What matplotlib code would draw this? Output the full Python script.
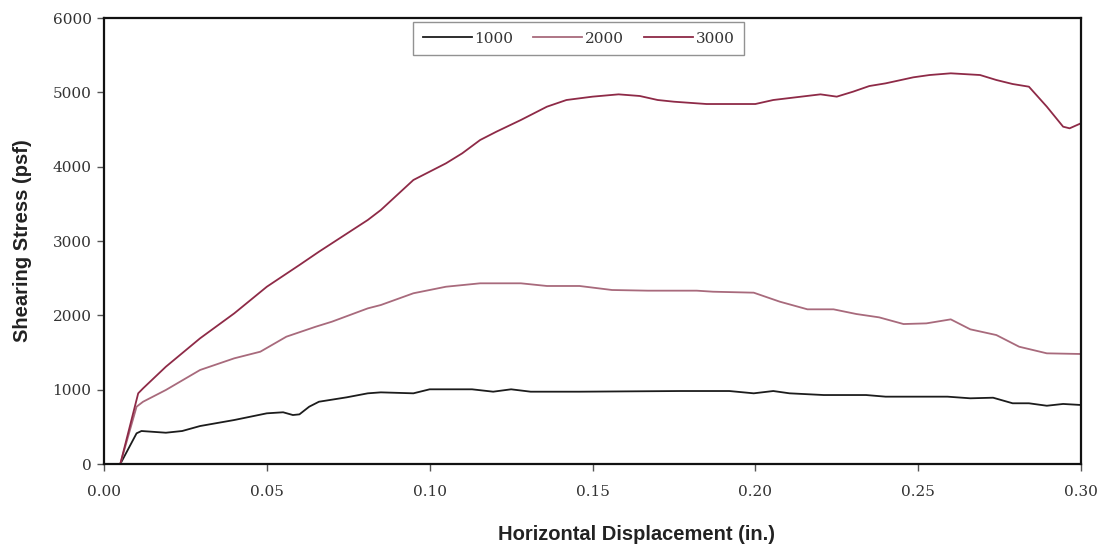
import numpy as np
import matplotlib.pyplot as plt

# Horizontal displacement (in.) and shearing stress (psf)
x_1000 = [0.005, 0.010, 0.0115, 0.019, 0.024, 0.0295, 0.040, 0.045, 0.050, 0.055,
          0.058, 0.060, 0.063, 0.066, 0.0745, 0.081, 0.085, 0.095, 0.100, 0.113,
          0.1195, 0.125, 0.131, 0.146, 0.177, 0.192, 0.1995, 0.2055, 0.2105, 0.221,
          0.234, 0.240, 0.259, 0.266, 0.273, 0.279, 0.284, 0.2895, 0.2945, 0.300]
y_1000 = [0, 413, 444, 421, 444, 511, 592, 637, 682, 696,
          659, 668, 771, 838, 897, 951, 964, 951, 1005, 1005,
          973, 1005, 973, 973, 982, 982, 951, 982, 951, 928,
          928, 906, 906, 884, 892, 817, 817, 784, 808, 794]

x_2000 = [0.005, 0.010, 0.012, 0.019, 0.0295, 0.040, 0.048, 0.056, 0.065, 0.070,
          0.081, 0.085, 0.095, 0.105, 0.1155, 0.128, 0.136, 0.146, 0.156, 0.167,
          0.182, 0.187, 0.1995, 0.2075, 0.216, 0.224, 0.231, 0.238, 0.2455, 0.2525,
          0.260, 0.266, 0.274, 0.281, 0.2895, 0.300]
y_2000 = [0, 771, 838, 996, 1265, 1422, 1511, 1713, 1847, 1915,
          2094, 2139, 2297, 2385, 2431, 2431, 2395, 2395, 2341, 2332,
          2332, 2318, 2305, 2184, 2081, 2081, 2018, 1973, 1883, 1892,
          1946, 1812, 1735, 1578, 1489, 1480]

x_3000 = [0.005, 0.0105, 0.012, 0.019, 0.0295, 0.040, 0.050, 0.060, 0.066, 0.081,
          0.085, 0.095, 0.105, 0.110, 0.1155, 0.1205, 0.128, 0.136, 0.142, 0.150,
          0.158, 0.1645, 0.170, 0.175, 0.185, 0.200, 0.2055, 0.220, 0.225, 0.230,
          0.235, 0.240, 0.2485, 0.2535, 0.260, 0.269, 0.274, 0.279, 0.284, 0.2895,
          0.2945, 0.2965, 0.300]
y_3000 = [0, 951, 1018, 1309, 1691, 2027, 2385, 2677, 2856, 3283,
          3417, 3821, 4045, 4180, 4359, 4471, 4628, 4807, 4897, 4942,
          4973, 4951, 4897, 4874, 4843, 4843, 4897, 4973, 4942, 5009,
          5085, 5121, 5202, 5233, 5256, 5233, 5166, 5112, 5076, 4807,
          4538, 4516, 4584]

series = [("1000", x_1000, y_1000, "#1c1c1c"),
          ("2000", x_2000, y_2000, "#a86a7c"),
          ("3000", x_3000, y_3000, "#8e2a47")]

fig = plt.figure(figsize=(11.10, 5.49), dpi=100)
ax = fig.add_axes([0.0937, 0.1548, 0.8802, 0.8124])

for name, xs, ys, col in series:
    ax.plot(xs, ys, color=col, lw=1.3, label=name)

ax.set_xlim(0, 0.30)
ax.set_ylim(0, 6000)
ax.set_xticks(np.arange(0, 0.301, 0.05))
ax.set_xticklabels([f"{v:.2f}" for v in np.arange(0, 0.301, 0.05)])
ax.set_yticks(np.arange(0, 6001, 1000))

for s in ax.spines.values():
    s.set_linewidth(1.6)
    s.set_color("#111111")

ax.tick_params(axis="both", direction="out", length=5, width=1, color="#555555",
               labelsize=11, labelcolor="#333333")
for lab in ax.get_xticklabels() + ax.get_yticklabels():
    lab.set_fontfamily("DejaVu Serif")
ax.tick_params(axis="x", pad=10)
ax.tick_params(axis="y", pad=4)

ax.set_xlabel("Horizontal Displacement (in.)", fontfamily="Liberation Sans",
              fontweight="bold", fontsize=14.5, color="#222222")
ax.set_ylabel("Shearing Stress (psf)", fontfamily="Liberation Sans",
              fontweight="bold", fontsize=14.5, color="#222222")
ax.xaxis.set_label_coords(0.545, -0.137)
ax.yaxis.set_label_coords(-0.074, 0.5)

leg = ax.legend(loc="upper center", bbox_to_anchor=(0.486, 0.99), ncol=3,
                frameon=True, fancybox=False, borderaxespad=0, handlelength=3.2,
                handletextpad=0.2, columnspacing=1.3, borderpad=0.6,
                prop={"family": "DejaVu Serif", "size": 11})
leg.get_frame().set_edgecolor("#777777")
leg.get_frame().set_linewidth(1.0)
for t in leg.get_texts():
    t.set_color("#333333")

fig.savefig("out.png", dpi=100)
